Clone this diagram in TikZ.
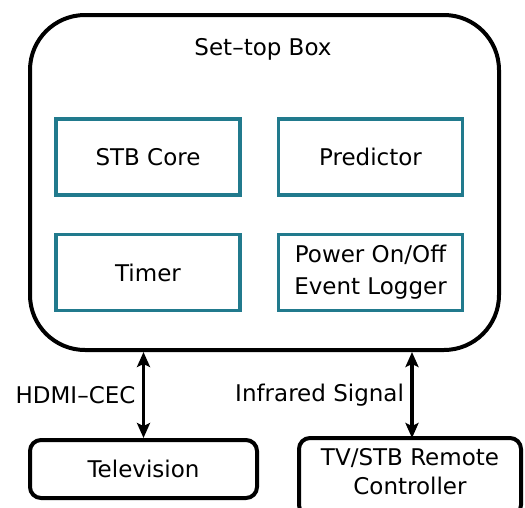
\documentclass[tikz,border=0pt]{standalone}
\usepackage{fontspec}
\setmainfont{DejaVu Sans}
\usetikzlibrary{arrows.meta, positioning, shapes}
\definecolor{tealline}{RGB}{33,122,141}
\tikzset{
        x=1pt, y=-1pt, % pixel coordinates, y downwards
        font=\fontsize{23}{27}\selectfont,
        outer box/.style={draw, line width=4pt, rounded corners=55pt,
                minimum width=469pt, minimum height=335pt},
        part box/.style={
		draw=tealline,
		line width=3.5pt,
		minimum width=184pt,
		minimum height=76pt,
		align=center,
	  },
        device box/.style={draw, line width=4pt, rounded corners=11pt,
                minimum height=#1, align=center},
        link/.style={line width=3.5pt, {Stealth[length=15pt,width=13pt,inset=3pt]}-{Stealth[length=15pt,width=13pt,inset=3pt]}},
  	}

\begin{document}
\begin{tikzpicture}
    \useasboundingbox (0,0) rectangle (525,507);
    \node [outer box] (stb) at (264.5,182.5) {};
    \node (title) at (263,49) {Set--top Box};
    % components of the set-top box
    \node [part box] (core) at (148,157) {STB Core};
    \node [part box] (pred) at (370.5,157) {Predictor};
    \node [part box] (timer) at (148,272.5) {Timer};
    \node [part box, inner sep=1pt] (logger) at (370.5,272.5) {Power On/Off\\[5pt]Event Logger};
    % external devices
    \node [device box=58pt, minimum width=227pt] (tv) at (143.5,469) {Television};
    \node [device box=78pt, minimum width=222pt] (remote) at (410,477) {};
    \node [align=center] (remotetext) at (410,472) {TV/STB Remote\\[2pt]Controller};
    % connections
    \draw [link] (tv.north) -- node [left=3pt] (hdmi) {HDMI--CEC} (tv.north |- stb.south);
    \draw [link] (412,438) coordinate (rtop) -- node [left=3pt] (ir) {Infrared Signal} (rtop |- stb.south);
\end{tikzpicture}
\end{document}
